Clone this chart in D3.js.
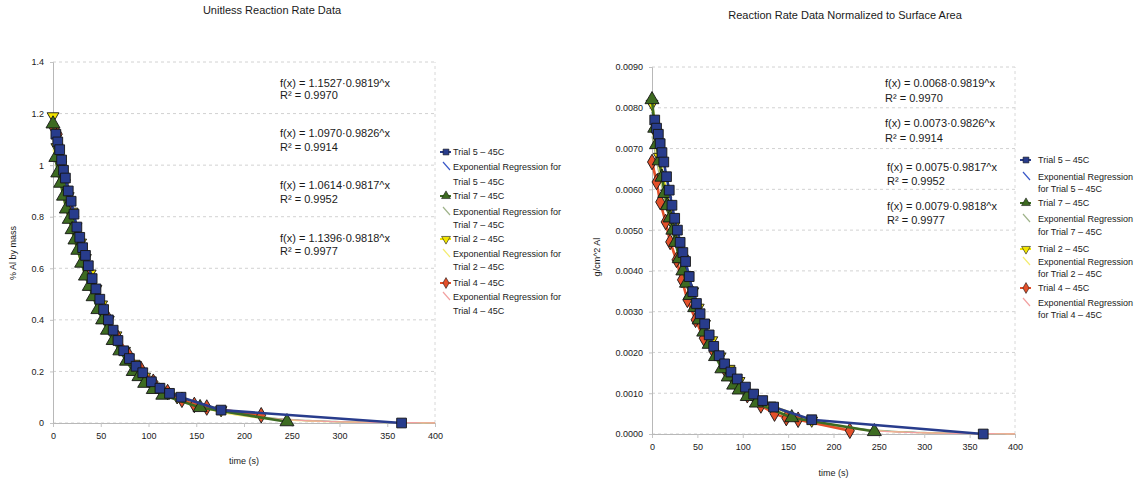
<!DOCTYPE html>
<html><head><meta charset="utf-8">
<script src="https://cdn.jsdelivr.net/npm/d3@7"></script>
<style>body{margin:0;background:#fff}text{font-family:"Liberation Sans",Arial,sans-serif;fill:#1a1a1a}</style>
</head><body><svg id="c" width="1142" height="487"></svg>
<script>
// ---------- data ----------
const xTicks = [0,50,100,150,200,250,300,350,400];
const leftYTicks = [0,0.2,0.4,0.6,0.8,1,1.2,1.4];
const leftYLabels = ["0","0.2","0.4","0.6","0.8","1","1.2","1.4"];
const rightYTicks = [0,0.001,0.002,0.003,0.004,0.005,0.006,0.007,0.008,0.009];
const rightYLabels = ["0.0000","0.0010","0.0020","0.0030","0.0040","0.0050","0.0060","0.0070","0.0080","0.0090"];

const trialNames = ["Trial 5 – 45C","Trial 7 – 45C","Trial 2 – 45C","Trial 4 – 45C"];

const t5 = [3,5,7,9,11,13,16,19,22,25,28,31,34,37,41,45,49,53,58,63,68,74,80,87,94,103,112,122,134,176,365];
const left5 = [1.12,1.09,1.06,1.02,0.98,0.95,0.90,0.86,0.81,0.76,0.72,0.68,0.65,0.61,0.56,0.52,0.48,0.44,0.40,0.36,0.32,0.28,0.25,0.22,0.195,0.16,0.135,0.115,0.10,0.05,0.0];
const right5 = [0.00770,0.00750,0.00735,0.00712,0.00690,0.00667,0.00631,0.00598,0.00561,0.00529,0.00500,0.00470,0.00445,0.00423,0.00386,0.00349,0.00320,0.00295,0.00270,0.00243,0.00215,0.00192,0.00172,0.00152,0.00135,0.00115,0.00098,0.00082,0.00066,0.00035,0.0];

const t7 = [0,3,5,8,11,14,17,20,23,26,30,34,38,42,47,52,57,63,70,77,84,90,96,105,115,154,245];
const left7 = [1.16,1.03,0.97,0.93,0.88,0.83,0.79,0.75,0.71,0.67,0.62,0.57,0.53,0.49,0.44,0.40,0.36,0.32,0.28,0.24,0.20,0.18,0.154,0.13,0.108,0.06,0.005];
const right7 = [0.0082,0.0075,0.0071,0.0067,0.0063,0.0059,0.0056,0.0053,0.0050,0.0047,0.0043,0.0040,0.0037,0.0034,0.0031,0.0028,0.0025,0.0022,0.0019,0.0016,0.0014,0.0012,0.00108,0.00092,0.00076,0.00040,0.00006];

const t2 = [0,4,8,12,16,20,24,29,34,39,45,51,58,66,75,85,96,110,130,176];
const left2 = [1.19,1.07,1.00,0.93,0.88,0.82,0.76,0.70,0.64,0.58,0.52,0.46,0.40,0.34,0.28,0.23,0.18,0.14,0.10,0.05];
const right2 = [0.0081,0.0074,0.0068,0.0063,0.0059,0.0055,0.0051,0.0047,0.0043,0.0039,0.0035,0.0031,0.0027,0.0023,0.0019,0.0016,0.0013,0.0010,0.0007,0.00033];

const t4 = [0,5,9,15,20,27,33,39,48,57,68,80,92,105,120,135,148,161,218];
const left4 = [1.15,1.12,1.02,0.90,0.81,0.71,0.63,0.56,0.48,0.41,0.33,0.26,0.21,0.16,0.12,0.09,0.07,0.06,0.03];
const right4 = [0.00667,0.00618,0.00569,0.0052,0.00471,0.00427,0.00378,0.00329,0.0028,0.00235,0.00202,0.0016,0.00125,0.00095,0.0007,0.0005,0.00039,0.00035,0.00008];

// fit coefficients shown in the chart (a * b^x), per trial 5,7,2,4
const leftFitA = [1.1396,1.0970,1.0614,1.1527];
const rightFitA = [0.0079,0.0073,0.0075,0.0068];
const fitB = [0.9818,0.9826,0.9817,0.9819];
const leftEq = ["f(x) = 1.1527·0.9819^x","f(x) = 1.0970·0.9826^x","f(x) = 1.0614·0.9817^x","f(x) = 1.1396·0.9818^x"];
const rightEq = ["f(x) = 0.0068·0.9819^x","f(x) = 0.0073·0.9826^x","f(x) = 0.0075·0.9817^x","f(x) = 0.0079·0.9818^x"];
const rSq = ["R² = 0.9970","R² = 0.9914","R² = 0.9952","R² = 0.9977"];

// ---------- styles ----------
const colors = ["#283c8c","#3d6b21","#f2e400","#e4502a"];
const fitColors = ["#3a58c8","#9fb38a","#f3ec70","#f2a0a0"];
const shapes = [d3.symbolSquare,d3.symbolTriangle,d3.symbolTriangle,d3.symbolDiamond];
const rot = [0,0,180,0];
const sizes = [95,85,60,70];

const svg = d3.select("#c");

function panel(cfg){
  const g = svg.append("g");
  const x = d3.scaleLinear([0,400],cfg.xr);
  const y = d3.scaleLinear([0,cfg.ymax],cfg.yr);
  g.selectAll(".gl").data(cfg.yt).join("line")
    .attr("x1",cfg.xr[0]).attr("x2",cfg.xr[1]).attr("y1",d=>y(d)).attr("y2",d=>y(d))
    .attr("stroke","#d2d2d2").attr("stroke-dasharray","3,3").attr("stroke-width",1);
  g.append("line").attr("x1",cfg.xr[1]).attr("x2",cfg.xr[1]).attr("y1",cfg.yr[0]).attr("y2",cfg.yr[1])
    .attr("stroke","#d8d8d8").attr("stroke-dasharray","3,3");
  const ax = g.append("g").attr("transform",`translate(0,${cfg.yr[0]})`)
    .call(d3.axisBottom(x).tickValues(xTicks).tickSize(4).tickPadding(6).tickFormat(d3.format("d")));
  const ay = g.append("g").attr("transform",`translate(${cfg.xr[0]},0)`)
    .call(d3.axisLeft(y).tickValues(cfg.yt).tickSize(3).tickPadding(6).tickFormat((d,i)=>cfg.yl[i]));
  [ax,ay].forEach(a=>{a.select(".domain").attr("stroke","#b8b8b8");a.selectAll(".tick line").attr("stroke","#c4c4c4");
    a.selectAll("text").attr("font-size",9).attr("fill","#1a1a1a").attr("font-family","Liberation Sans, Arial, sans-serif");});
  const xs = d3.range(0,401,4);
  cfg.fitA.forEach((a,i)=>{
    g.append("path").datum(xs).attr("fill","none").attr("stroke",fitColors[i]).attr("stroke-width",1.2)
      .attr("d",d3.line().x(d=>x(d)).y(d=>y(a*Math.pow(fitB[i],d))));
  });
  // data series (draw order: 2, 4, 7, 5)
  [2,3,1,0].forEach(i=>{
    const pts = cfg.t[i].map((t,k)=>[t,cfg.v[i][k]]);
    g.append("path").datum(pts).attr("fill","none").attr("stroke",colors[i]).attr("stroke-width",2.6)
      .attr("d",d3.line().x(d=>x(d[0])).y(d=>y(d[1])));
    g.selectAll(null).data(pts).join("path")
      .attr("transform",d=>`translate(${x(d[0])},${y(d[1])}) rotate(${rot[i]})`)
      .attr("d",d3.symbol(shapes[i],sizes[i])())
      .attr("fill",colors[i]).attr("stroke","#151515").attr("stroke-width",0.9);
  });
  svg.append("text").attr("x",cfg.title[1]).attr("y",cfg.title[2]).attr("text-anchor","middle")
    .attr("font-size",11).text(cfg.title[0]);
  svg.append("text").attr("x",(cfg.xr[0]+cfg.xr[1])/2).attr("y",cfg.xlab).attr("text-anchor","middle")
    .attr("font-size",9).text("time (s)");
  svg.append("text").attr("transform",`translate(${cfg.ylab[1]},${cfg.ylab[2]}) rotate(-90)`).attr("text-anchor","middle")
    .attr("font-size",9).text(cfg.ylab[0]);
  cfg.eq.forEach((e,i)=>{
    svg.append("text").attr("x",cfg.eqx[i]).attr("y",cfg.eqy[i][0]+4).attr("font-size",11).text(e);
    svg.append("text").attr("x",cfg.eqx[i]).attr("y",cfg.eqy[i][1]+4).attr("font-size",11).text(rSq[i]);
  });
  cfg.leg.forEach((L,i)=>{
    const mx = cfg.legx;
    svg.append("line").attr("x1",mx-6).attr("x2",mx+5).attr("y1",L[0]).attr("y2",L[0]).attr("stroke",colors[i]).attr("stroke-width",2);
    svg.append("path").attr("transform",`translate(${mx},${L[0]}) rotate(${rot[i]})`)
      .attr("d",d3.symbol(shapes[i],34)()).attr("fill",colors[i]).attr("stroke","#1a1a1a").attr("stroke-width",0.6);
    svg.append("text").attr("x",cfg.legtx).attr("y",L[0]+3).attr("font-size",9).text(trialNames[i]);
    svg.append("line").attr("x1",mx-3).attr("y1",L[1]-5).attr("x2",mx+4).attr("y2",L[1]+3)
      .attr("stroke",fitColors[i]).attr("stroke-width",1.2);
    const lines = cfg.regLabel(trialNames[i]);
    svg.append("text").attr("x",cfg.legtx).attr("y",L[1]+3).attr("font-size",9).text(lines[0]);
    svg.append("text").attr("x",cfg.legtx).attr("y",L[2]+3).attr("font-size",9).text(lines[1]);
  });
}

panel({
  xr:[53,435], yr:[423,62], ymax:1.4, yt:leftYTicks, yl:leftYLabels,
  t:[t5,t7,t2,t4], v:[left5,left7,left2,left4], fitA:leftFitA,
  title:["Unitless Reaction Rate Data",272,14], xlab:464, ylab:["% Al by mass",16,253],
  eq:leftEq, eqx:[280,280,280,280], eqy:[[83,95],[133,147],[185,199],[238,251]],
  legx:446, legtx:453,
  leg:[[152,167,182],[196,212,225],[239,254,267],[283,297,311]],
  regLabel:n=>["Exponential Regression for",n]
});
panel({
  xr:[652,1015], yr:[434,67], ymax:0.009, yt:rightYTicks, yl:rightYLabels,
  t:[t5,t7,t2,t4], v:[right5,right7,right2,right4], fitA:rightFitA,
  title:["Reaction Rate Data Normalized to Surface Area",845,19], xlab:476, ylab:["g/cm^2 Al",600,257],
  eq:rightEq, eqx:[885,885,887,887], eqy:[[83,98],[123,138],[167,181],[206,220]],
  legx:1026, legtx:1038,
  leg:[[160,177,189],[203,219,232],[249,262,274],[288,303,315]],
  regLabel:n=>["Exponential Regression","for "+n]
});
</script></body></html>
